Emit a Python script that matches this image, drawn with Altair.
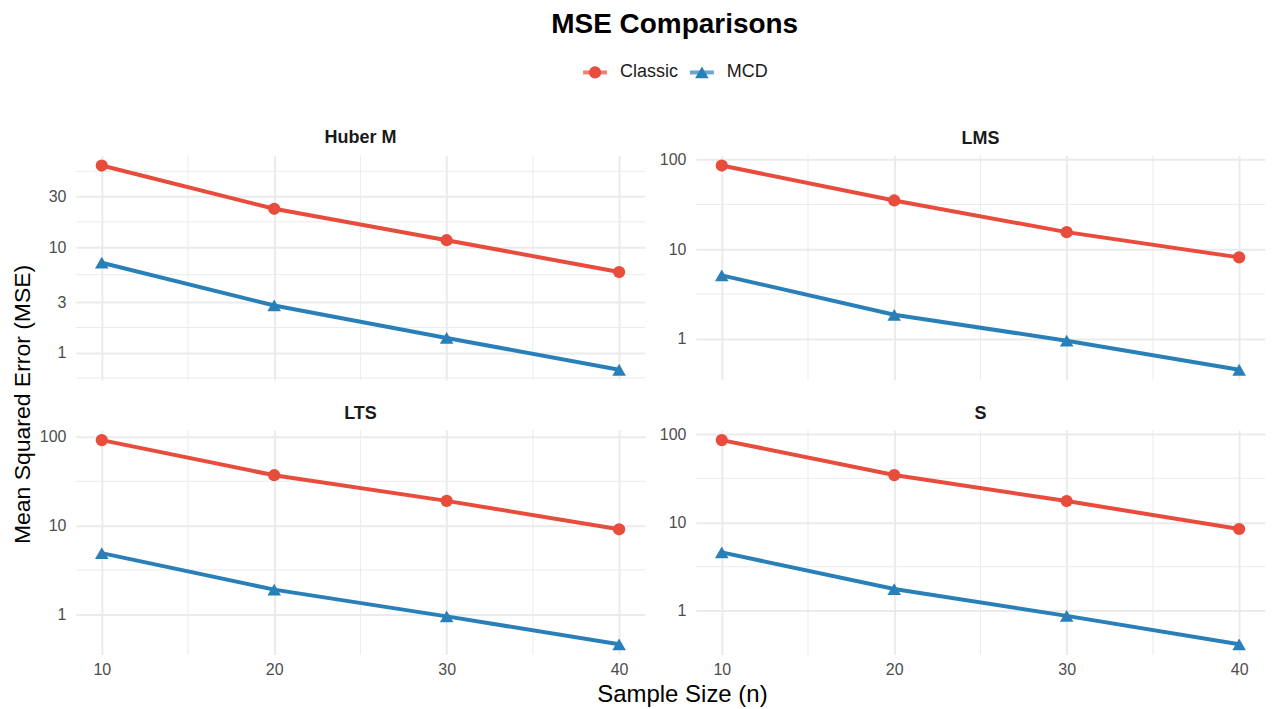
import math
import altair as alt
import pandas as pd

# ---- data ----
sample_sizes = [10, 20, 30, 40]
series_names = ["Classic", "MCD"]
series_colors = ["#E74C3C", "#2980B9"]
series_shapes = ["circle", "triangle-up"]
series_sizes = [150, 185]

huber_classic = [59.0, 23.0, 11.6, 5.8]
huber_mcd = [7.1, 2.8, 1.38, 0.69]
lms_classic = [86.0, 35.0, 15.5, 8.1]
lms_mcd = [5.1, 1.85, 0.95, 0.45]
lts_classic = [92.0, 37.0, 19.0, 9.1]
lts_mcd = [4.9, 1.9, 0.95, 0.46]
s_classic = [85.5, 34.4, 17.5, 8.45]
s_mcd = [4.6, 1.77, 0.88, 0.42]

huber_ticks = [1, 3, 10, 30]
other_ticks = [1, 10, 100]
x_ticks = [10, 20, 30, 40]

FONT = "Liberation Sans"
PANEL_W = 570
PANEL_H = 225
COL_GAP = 51
ROW_GAP = 50
GRID = "#EBEBEB"

color_scale = alt.Scale(domain=series_names, range=series_colors)
shape_scale = alt.Scale(domain=series_names, range=series_shapes)
size_scale = alt.Scale(domain=series_names, range=series_sizes)


def minor_breaks(majors, lo, hi):
    ext = [majors[0] - (majors[1] - majors[0])] + list(majors) + [majors[-1] + (majors[-1] - majors[-2])]
    mids = [(ext[i] + ext[i + 1]) / 2 for i in range(len(ext) - 1)]
    return [m for m in mids if lo <= m <= hi]


def panel(name, classic, mcd, majors, show_x, y_title=None, x_title=None):
    df = pd.DataFrame({
        "n": sample_sizes * 2,
        "mse": classic + mcd,
        "series": [series_names[0]] * len(classic) + [series_names[1]] * len(mcd),
    })
    vals = classic + mcd
    llo, lhi = math.log10(min(vals)), math.log10(max(vals))
    pad = 0.05 * (lhi - llo)
    ydom = [10 ** (llo - pad), 10 ** (lhi + pad)]
    xpad = 0.05 * (max(sample_sizes) - min(sample_sizes))
    xdom = [min(sample_sizes) - xpad, max(sample_sizes) + xpad]

    lmaj = [math.log10(v) for v in majors]
    yminor = [10 ** m for m in minor_breaks(lmaj, llo - pad, lhi + pad)]
    xminor = minor_breaks(x_ticks, xdom[0], xdom[1])

    # keep the strip titles level: compensate for a top tick label poking above the panel
    top_major = max(m for m in lmaj if m <= lhi + pad)
    dist = (lhi + pad - top_major) / (2 * pad + lhi - llo) * PANEL_H
    title_offset = 8 - max(0.0, 9 - dist)

    xscale = alt.Scale(domain=xdom, nice=False, zero=False)
    yscale = alt.Scale(type="log", domain=ydom, nice=False, zero=False)

    xkw = dict(values=x_ticks, grid=True, gridColor=GRID, gridWidth=2,
               labels=show_x, ticks=False, tickSize=0, domain=False,
               labelFontSize=16, labelColor="#4D4D4D", labelFont=FONT, labelPadding=7)
    if x_title:
        xkw.update(title=x_title, titleFont=FONT, titleFontSize=24, titleFontWeight="normal",
                   titleColor="black", titleX=607, titleY=47,
                   titleAnchor="middle", titleAlign="center", titleBaseline="alphabetic")
    else:
        xkw.update(title=None)
    ykw = dict(values=majors, format="~g", grid=True, gridColor=GRID, gridWidth=2,
               ticks=False, tickSize=0, domain=False,
               labelFontSize=16, labelColor="#4D4D4D", labelFont=FONT, labelPadding=10)
    if y_title:
        ykw.update(title=y_title, titleFont=FONT, titleFontSize=23, titleFontWeight="normal",
                   titleColor="black", titleX=-46, titleY=(2 * PANEL_H + ROW_GAP) / 2 - 1,
                   titleAngle=270, titleAlign="center", titleBaseline="alphabetic")
    else:
        ykw.update(title=None)
    xaxis = alt.Axis(**xkw)
    yaxis = alt.Axis(**ykw)

    ymin_rules = alt.Chart(pd.DataFrame({"mse": yminor})).mark_rule(
        color=GRID, strokeWidth=1).encode(y=alt.Y("mse:Q", scale=yscale, axis=yaxis))
    xmin_rules = alt.Chart(pd.DataFrame({"n": xminor})).mark_rule(
        color=GRID, strokeWidth=1).encode(x=alt.X("n:Q", scale=xscale, axis=xaxis))

    base = alt.Chart(df).encode(
        x=alt.X("n:Q", scale=xscale, axis=xaxis),
        y=alt.Y("mse:Q", scale=yscale, axis=yaxis),
        color=alt.Color("series:N", scale=color_scale, legend=None),
    )
    lines = base.mark_line(strokeWidth=4)
    points = base.mark_point(filled=True, opacity=1).encode(
        shape=alt.Shape("series:N", scale=shape_scale, legend=None),
        size=alt.Size("series:N", scale=size_scale, legend=None))

    return alt.layer(ymin_rules, xmin_rules, lines, points).properties(
        width=PANEL_W, height=PANEL_H,
        title=alt.TitleParams(name, fontSize=18, fontWeight="bold", font=FONT, color="#1A1A1A",
                              anchor="middle", frame="group", offset=title_offset),
    )


p_huber = panel("Huber M", huber_classic, huber_mcd, huber_ticks, False, y_title="Mean Squared Error (MSE)")
p_lms = panel("LMS", lms_classic, lms_mcd, other_ticks, False)
p_lts = panel("LTS", lts_classic, lts_mcd, other_ticks, True, x_title="Sample Size (n)")
p_s = panel("S", s_classic, s_mcd, other_ticks, True)

grid = alt.concat(p_huber, p_lms, p_lts, p_s, columns=2, bounds="flush",
                  spacing={"row": ROW_GAP, "column": COL_GAP})

# ---- manual legend (line + symbol + label) ----
leg_df = pd.DataFrame({"series": series_names})
leg_x = alt.X("series:N", axis=None,
              scale=alt.Scale(type="point", domain=series_names, range=[520, 627], padding=0))
leg_base = alt.Chart(leg_df).encode(
    x=leg_x,
    y=alt.value(10),
    color=alt.Color("series:N", scale=color_scale, legend=None),
)
leg_line = leg_base.mark_tick(orient="horizontal", size=24, thickness=4)
leg_pts = leg_base.mark_point(filled=True, opacity=1).encode(
    shape=alt.Shape("series:N", scale=shape_scale, legend=None),
    size=alt.Size("series:N", scale=size_scale, legend=None))
leg_txt = alt.Chart(leg_df).mark_text(align="left", baseline="middle", dx=25, fontSize=18,
                                      font=FONT, color="#1A1A1A").encode(
    x=leg_x, y=alt.value(10), text="series:N")
legend = alt.layer(leg_line, leg_pts, leg_txt).properties(width=2 * PANEL_W + COL_GAP, height=20)

chart = alt.vconcat(legend, grid, spacing=73, bounds="flush").properties(
    title=alt.TitleParams("MSE Comparisons", fontSize=28, fontWeight="bold", font=FONT,
                          color="black", anchor="middle", baseline="alphabetic",
                          offset=2, dx=36),
    padding={"left": 3, "top": 2, "right": 0, "bottom": 0},
    background="white",
).configure_view(stroke=None)

chart.save("out.html", embed_options={"renderer": "svg", "actions": False})
